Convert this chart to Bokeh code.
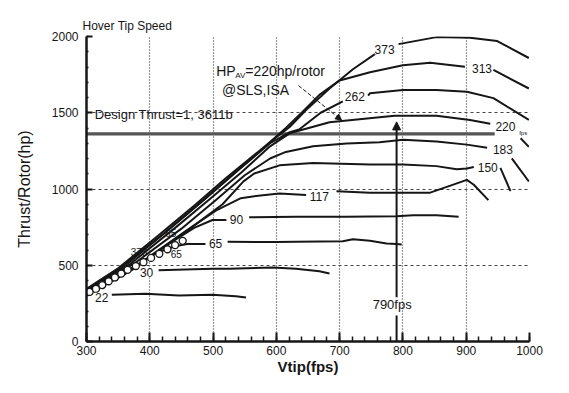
from bokeh.plotting import figure
from bokeh.models import SingleIntervalTicker, FixedTicker, Arrow, NormalHead, Range1d
from bokeh.core.properties import value
from bokeh.embed import file_html
from bokeh.resources import INLINE

FONT = "Liberation Sans"
INK = "#161616"

# ---- axes ----
x_grid = [400, 500, 600, 700, 800, 900]
y_grid = [500, 1000, 1500, 2000]

# ---- constant-power curves (Vtip fps, thrust) ----
hp22_v = [340, 393, 446, 499, 536, 552]
hp22_t = [307, 313, 301, 307, 297, 288]

hp30_v = [414, 499, 525, 594, 631, 668, 684]
hp30_t = [467, 477, 477, 486, 477, 460, 446]

hp65a_v = [300, 360, 410, 440, 459, 488]
hp65a_t = [305, 440, 580, 625, 639, 639]
hp65b_v = [523, 600, 631, 705, 721, 748, 774, 790, 798]
hp65b_t = [654, 652, 654, 658, 671, 660, 643, 639, 636]

hp90a_v = [300, 372, 430, 470, 499, 521]
hp90a_t = [312, 470, 640, 745, 797, 797]
hp90b_v = [557, 631, 710, 790, 816, 853, 888]
hp90b_t = [814, 818, 818, 822, 828, 828, 818]

hp117a_v = [300, 380, 455, 505, 544, 575, 605, 647]
hp117a_t = [318, 500, 720, 860, 940, 958, 970, 961]
hp117b_v = [695, 748, 800, 843, 875, 901, 912, 935]
hp117b_t = [986, 976, 976, 976, 1022, 1060, 1028, 927]

hp150a_v = [300, 385, 462, 515, 548, 565, 605, 658, 748, 800, 853, 885, 901, 912]
hp150a_t = [322, 510, 735, 900, 1050, 1102, 1155, 1171, 1160, 1160, 1150, 1129, 1134, 1144]
hp150b_v = [954, 970]
hp150b_t = [1138, 986]

hp183a_v = [300, 375, 450, 505, 550, 590, 615, 658, 711, 763, 800, 853, 901, 933]
hp183a_t = [328, 510, 740, 930, 1090, 1200, 1243, 1281, 1298, 1306, 1323, 1312, 1291, 1270]
hp183b_v = [972, 999]
hp183b_t = [1201, 1049]

hp220a_v = [300, 368, 440, 495, 545, 590, 621, 684, 763, 787, 853, 906, 938]
hp220a_t = [333, 505, 745, 935, 1110, 1280, 1365, 1438, 1470, 1480, 1480, 1453, 1428]
hp220b_v = [986, 999]
hp220b_t = [1333, 1276]

hp262a_v = [300, 362, 430, 490, 540, 590, 620, 636, 670, 705]
hp262a_t = [337, 500, 735, 945, 1125, 1300, 1370, 1390, 1500, 1575]
hp262b_v = [745, 748, 800, 853, 901, 943, 999]
hp262b_t = [1613, 1628, 1649, 1649, 1638, 1596, 1453]

hp313a_v = [300, 355, 420, 480, 530, 580, 615, 640, 668, 700, 748, 800, 843, 898]
hp313a_t = [340, 490, 700, 910, 1090, 1270, 1400, 1500, 1617, 1712, 1765, 1811, 1828, 1802]
hp313b_v = [943, 999]
hp313b_t = [1781, 1659]

hp373a_v = [300, 350, 412, 470, 520, 570, 600, 621, 650, 684, 721, 758]
hp373a_t = [345, 480, 690, 890, 1070, 1240, 1340, 1407, 1530, 1659, 1785, 1891]
hp373b_v = [793, 853, 906, 949, 999]
hp373b_t = [1950, 1996, 1992, 1970, 1859]

# hover test points along the band
pts_v = [305, 315, 325, 335, 345, 355, 365, 378, 390, 402, 415, 428, 440, 452]
pts_t = [325, 345, 370, 395, 420, 445, 470, 495, 520, 548, 575, 605, 632, 660]

# curve labels (hp)
lab_text = ["22", "30", "65", "90", "117", "150", "183", "220", "262", "313", "373"]
lab_v = [324, 395, 504, 537, 668, 934, 958, 962, 724, 925, 771]
lab_t = [290, 450, 645, 797, 948, 1144, 1259, 1407, 1607, 1789, 1912]

band_text = ["373", "65", "65"]
band_v = [383, 442, 433]
band_t = [590, 576, 712]

design_thrust = 1361
design_v = [300, 945]
vtip_design = 790

p = figure(width=553, height=377, output_backend="svg", toolbar_location=None,
           x_range=Range1d(300, 1000), y_range=Range1d(0, 2000),
           min_border_left=86, min_border_right=24, min_border_top=36, min_border_bottom=28,
           background_fill_color="white", border_fill_color="white")
p.outline_line_color = None

p.title.text = "Hover Tip Speed"
p.title.text_font = FONT
p.title.text_font_size = "12px"
p.title.text_font_style = "normal"
p.title.text_color = INK
p.title.align = "left"
p.title.offset = -4
p.title.standoff = 8

# axes
p.xaxis.ticker = SingleIntervalTicker(interval=100, num_minor_ticks=5)
p.yaxis.ticker = SingleIntervalTicker(interval=500, num_minor_ticks=5)
for ax in (p.xaxis[0], p.yaxis[0]):
    ax.axis_line_width = 2.5
    ax.axis_line_color = INK
    ax.major_tick_line_color = INK
    ax.minor_tick_line_color = INK
    ax.major_tick_out = 0
    ax.minor_tick_out = 0
    ax.major_label_text_font = FONT
    ax.major_label_text_font_size = "12px"
    ax.major_label_text_color = INK
    ax.axis_label_text_font = FONT
    ax.axis_label_text_color = INK
p.xaxis.major_tick_in = 9
p.xaxis.minor_tick_in = 5
p.xaxis.major_tick_line_width = 2
p.xaxis.minor_tick_line_width = 1.5
p.yaxis.major_tick_in = 6
p.yaxis.minor_tick_in = 2
p.yaxis.major_tick_line_width = 2
p.yaxis.minor_tick_line_width = 1.5
p.xaxis.major_label_standoff = 4
p.yaxis.major_label_standoff = 8
p.xaxis.axis_label = "Vtip(fps)"
p.xaxis.axis_label_text_font_size = "15px"
p.xaxis.axis_label_text_font_style = "bold"
p.xaxis.axis_label_standoff = 0
p.yaxis.axis_label = "Thrust/Rotor(hp)"
p.yaxis.axis_label_text_font_size = "16px"
p.yaxis.axis_label_text_font_style = "normal"
p.yaxis.axis_label_standoff = 16

p.xgrid.ticker = FixedTicker(ticks=x_grid)
p.ygrid.ticker = FixedTicker(ticks=y_grid)
p.xgrid.grid_line_color = "#333333"
p.xgrid.grid_line_dash = "1 2"
p.xgrid.grid_line_width = 1.2
p.ygrid.grid_line_color = "#444444"
p.ygrid.grid_line_dash = "3 3"
p.ygrid.grid_line_width = 1.2

# design thrust line
p.line(design_v, [design_thrust, design_thrust], line_color="#555555", line_width=3.2)

curves = [
    (hp22_v, hp22_t), (hp30_v, hp30_t),
    (hp65a_v, hp65a_t), (hp65b_v, hp65b_t),
    (hp90a_v, hp90a_t), (hp90b_v, hp90b_t),
    (hp117a_v, hp117a_t), (hp117b_v, hp117b_t),
    (hp150a_v, hp150a_t), (hp150b_v, hp150b_t),
    (hp183a_v, hp183a_t), (hp183b_v, hp183b_t),
    (hp220a_v, hp220a_t), (hp220b_v, hp220b_t),
    (hp262a_v, hp262a_t), (hp262b_v, hp262b_t),
    (hp313a_v, hp313a_t), (hp313b_v, hp313b_t),
    (hp373a_v, hp373a_t), (hp373b_v, hp373b_t),
]
for cv, ct in curves:
    p.line(cv, ct, line_color=INK, line_width=2.0, line_join="round")

p.scatter(pts_v, pts_t, marker="circle", size=7, fill_color="white", line_color=INK, line_width=1.3)

# 790 fps arrow
p.line([vtip_design, vtip_design], [0, 170], line_color=INK, line_width=2)
p.add_layout(Arrow(end=NormalHead(size=8, fill_color=INK, line_color=INK),
                   x_start=vtip_design, y_start=290, x_end=vtip_design, y_end=1440,
                   line_color=INK, line_width=2))
p.text([783], [240], text=["790fps"], text_font=value(FONT), text_font_size="13px",
       text_align="center", text_baseline="middle", text_color=INK)

# HP annotation arrow
p.add_layout(Arrow(end=NormalHead(size=6, fill_color=INK, line_color=INK),
                   x_start=635, y_start=1678, x_end=703, y_end=1451,
                   line_color=INK, line_width=1, line_dash="4 2"))

# labels
p.text(lab_v, lab_t, text=lab_text, text_font=value(FONT), text_font_size="12px",
       text_align="center", text_baseline="middle", text_color=INK,
       background_fill_color="white")
p.text(band_v, band_t, text=band_text, text_font=value(FONT), text_font_size="10px",
       text_align="center", text_baseline="middle", text_color=INK)
p.text([990], [1365], text=["fps"], text_font=value(FONT), text_font_size="6px",
       text_align="center", text_baseline="middle", text_color=INK)

p.text([313], [1489], text=["Design Thrust=1, 3611b"], text_font=value(FONT),
       text_font_size="13px", text_align="left", text_baseline="middle", text_color=INK)
p.text([505, 505, 505], [1773, 1773, 1773], text=["HP", "AV", "=220hp/rotor"],
       x_offset=[0, 19, 29], y_offset=[0, 4, 0],
       text_font=value(FONT), text_font_size=["14px", "8px", "14px"],
       text_align="left", text_baseline="middle", text_color=INK)
p.text([514], [1648], text=["@SLS,ISA"], text_font=value(FONT), text_font_size="14px",
       text_align="left", text_baseline="middle", text_color=INK)

open("out.html", "w").write(file_html(p, INLINE))
